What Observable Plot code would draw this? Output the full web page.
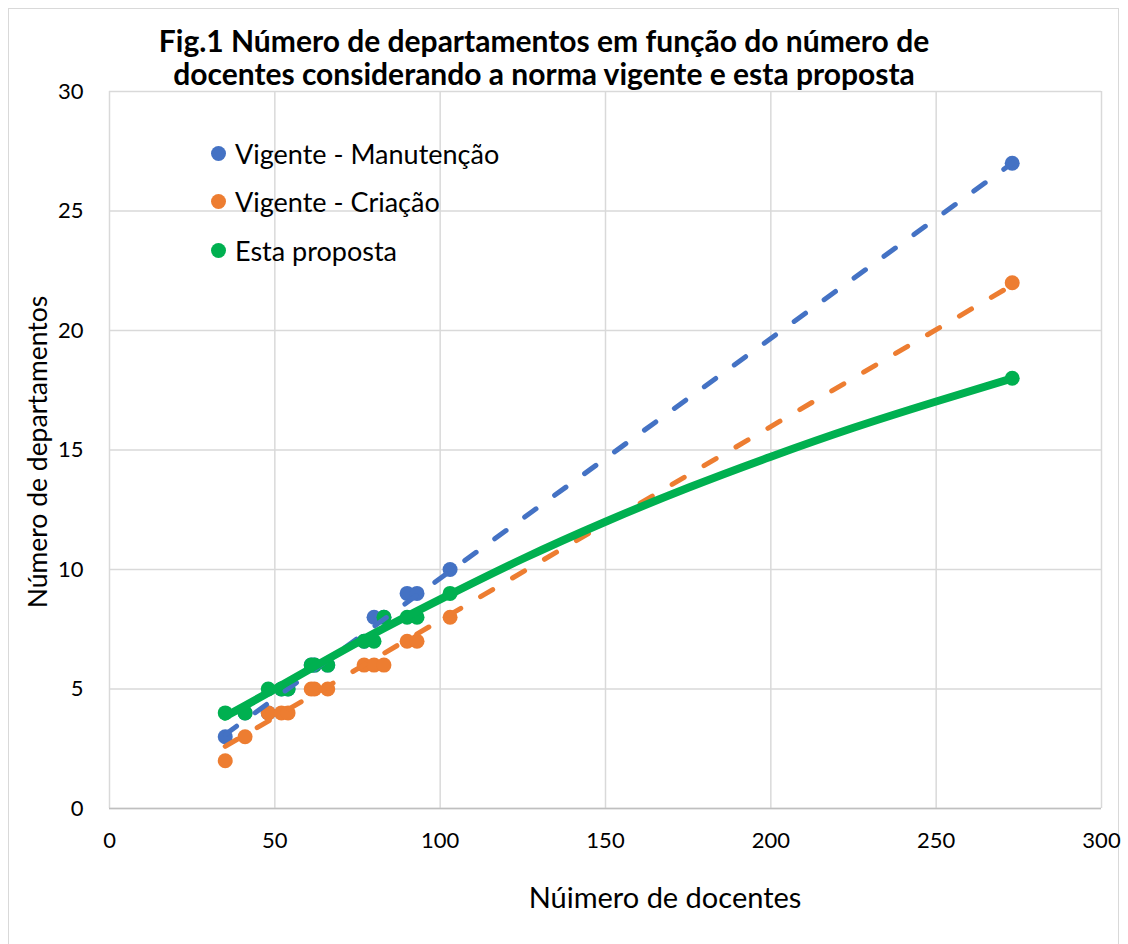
<!DOCTYPE html>
<html>
<head>
<meta charset="utf-8">
<script src="https://cdn.jsdelivr.net/npm/d3@7"></script>
<script src="https://cdn.jsdelivr.net/npm/@observablehq/plot@0.6"></script>
<style>
  html, body { margin: 0; padding: 0; background: #fff; }
  #wrap { position: relative; width: 1128px; height: 944px; font-family: Lato, "Open Sans", sans-serif; color: #000; }
  #frame { position: absolute; left: 8px; top: 8px; width: 1111px; height: 945px; border: 1.5px solid #d9d9d9; box-sizing: border-box; }
  #title { position: absolute; left: 0; width: 1088px; top: 24px; text-align: center; font-weight: bold; font-size: 30px; line-height: 33px; white-space: nowrap; }
  .leg { position: absolute; left: 211px; height: 30px; display: flex; align-items: center; font-size: 27px; white-space: nowrap; }
  .leg .sw { width: 15px; height: 15px; border-radius: 50%; margin-right: 9px; }
  #ylab { position: absolute; left: 37px; top: 452px; transform: translate(-50%, -50%) rotate(-90deg); font-size: 26.5px; white-space: nowrap; }
  #xlab { position: absolute; left: 665px; top: 896px; transform: translate(-50%, -50%); font-size: 29px; white-space: nowrap; }
  svg { position: absolute; left: 0; top: 0; }
</style>
</head>
<body>
<div id="wrap">
  <div id="frame"></div>
</div>
<script>
// ---- Data ----
const docentes   = [35, 41, 48, 52, 54, 61, 62, 66, 77, 80, 83, 90, 93, 103, 273];
const manutencao = [3, 4, 4, 5, 5, 6, 6, 6, 7, 8, 8, 9, 9, 10, 27];
const criacao    = [2, 3, 4, 4, 4, 5, 5, 5, 6, 6, 6, 7, 7, 8, 22];
const proposta   = [4, 4, 5, 5, 5, 6, 6, 6, 7, 7, 8, 8, 8, 9, 18];

// trend lines
const trendX          = [35, 273];
const trendManutencao = [3.1, 27.0];
const trendCriacao    = [2.6, 21.9];
const curveX          = [35, 50, 75, 100, 125, 150, 175, 200, 225, 250, 273];
const curveProposta   = [3.85, 5.0, 6.95, 8.75, 10.45, 12.0, 13.42, 14.72, 15.93, 17.03, 18.0];

const xTicks = [0, 50, 100, 150, 200, 250, 300];
const yTicks = [0, 5, 10, 15, 20, 25, 30];

const seriesNames  = ["Vigente - Manutenção", "Vigente - Criação", "Esta proposta"];
const seriesColors = ["#4472C4", "#ED7D31", "#00B050"];

const titleLines = ["Fig.1 Número de departamentos em função do número de",
                    "docentes considerando a norma vigente e esta proposta"];
const xLabel = "Núimero de docentes";
const yLabel = "Número de departamentos";

// ---- tables ----
const pts = (ys) => docentes.map((d, i) => ({x: d, y: ys[i]}));
const line = (xs, ys) => xs.map((d, i) => ({x: d, y: ys[i]}));

const dashed = { strokeWidth: 5, strokeDasharray: "14,23", strokeLinecap: "round" };

const chart = Plot.plot({
  width: 1128,
  height: 944,
  marginLeft: 109,
  marginRight: 27,
  marginTop: 91,
  marginBottom: 136,
  style: { fontFamily: "Lato, 'Open Sans', sans-serif", fontSize: "22px", color: "#000", background: "transparent" },
  x: { domain: [0, 300] },
  y: { domain: [0, 30] },
  marks: [
    Plot.gridX(xTicks, { stroke: "#d9d9d9", strokeOpacity: 1, strokeWidth: 1.5 }),
    Plot.gridY(yTicks, { stroke: "#d9d9d9", strokeOpacity: 1, strokeWidth: 1.5 }),
    Plot.ruleY([0], { stroke: "#bfbfbf", strokeWidth: 1.5 }),
    Plot.axisX(xTicks, { tickSize: 0, tickPadding: 24, label: null, fontSize: 22 }),
    Plot.axisY(yTicks, { tickSize: 0, tickPadding: 26, label: null, fontSize: 22 }),
    Plot.dot(pts(manutencao), { x: "x", y: "y", r: 7.5, fill: seriesColors[0] }),
    Plot.dot(pts(criacao),    { x: "x", y: "y", r: 7.5, fill: seriesColors[1] }),
    Plot.dot(pts(proposta),   { x: "x", y: "y", r: 7.5, fill: seriesColors[2] }),
    Plot.line(line(trendX, trendManutencao), { x: "x", y: "y", stroke: seriesColors[0], ...dashed }),
    Plot.line(line(trendX, trendCriacao),    { x: "x", y: "y", stroke: seriesColors[1], ...dashed }),
    Plot.line(line(curveX, curveProposta),   { x: "x", y: "y", stroke: seriesColors[2], strokeWidth: 8, curve: "natural", strokeLinecap: "round" })
  ]
});

const wrap = document.getElementById("wrap");
wrap.appendChild(chart);

const t = document.createElement("div");
t.id = "title";
t.innerHTML = titleLines.join("<br>");
wrap.appendChild(t);

const legendRows = [153, 201, 250];
seriesNames.forEach((name, i) => {
  const row = document.createElement("div");
  row.className = "leg";
  row.style.top = (legendRows[i] - 15) + "px";
  const sw = document.createElement("span");
  sw.className = "sw";
  sw.style.background = seriesColors[i];
  const tx = document.createElement("span");
  tx.textContent = name;
  row.appendChild(sw);
  row.appendChild(tx);
  wrap.appendChild(row);
});

const yl = document.createElement("div");
yl.id = "ylab"; yl.textContent = yLabel; wrap.appendChild(yl);
const xl = document.createElement("div");
xl.id = "xlab"; xl.textContent = xLabel; wrap.appendChild(xl);
</script>
</body>
</html>
